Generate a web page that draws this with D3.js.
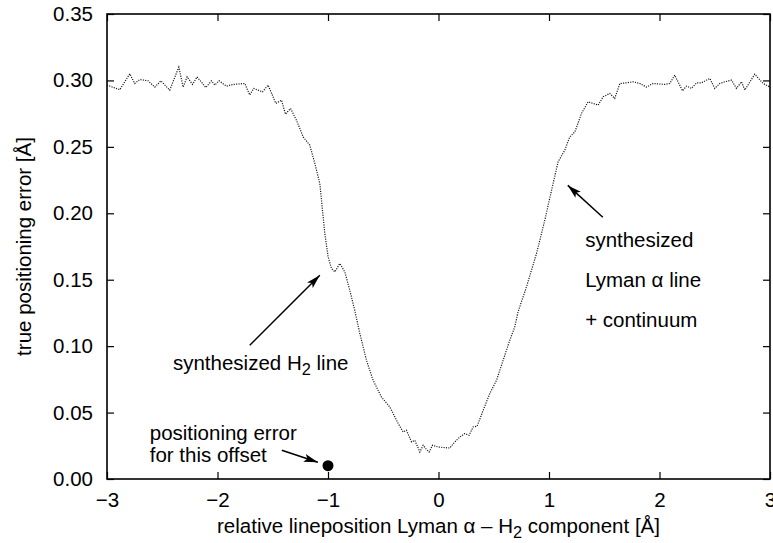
<!DOCTYPE html>
<html><head><meta charset="utf-8">
<script src="https://cdn.jsdelivr.net/npm/d3@7"></script>
<style>
html,body{margin:0;padding:0;background:#fff;}
svg text{font-family:"Liberation Sans",Arial,Helvetica,sans-serif;fill:#000;}
</style></head>
<body><svg id="chart" width="773" height="543"></svg>
<script>
// ---- data ----
const offsets = [-3.00,-2.884,-2.794,-2.749,-2.703,-2.628,-2.567,-2.513,-2.432,-2.350,-2.311,-2.275,-2.226,-2.185,-2.106,-2.054,-2.024,-1.986,-1.919,-1.859,-1.753,-1.708,-1.672,-1.593,-1.542,-1.472,-1.421,-1.385,-1.339,-1.285,-1.225,-1.165,-1.119,-1.074,-1.050,-1.029,-0.999,-0.968,-0.938,-0.893,-0.848,-0.803,-0.758,-0.712,-0.652,-0.592,-0.516,-0.441,-0.366,-0.320,-0.290,-0.244,-0.214,-0.169,-0.139,-0.115,-0.085,-0.054,-0.004,0.102,0.148,0.193,0.238,0.277,0.313,0.349,0.404,0.464,0.525,0.585,0.645,0.690,0.720,0.796,0.887,0.962,1.037,1.082,1.143,1.188,1.234,1.294,1.354,1.399,1.444,1.490,1.550,1.595,1.641,1.701,1.761,1.822,1.882,1.942,2.048,2.093,2.138,2.208,2.244,2.290,2.335,2.380,2.425,2.455,2.500,2.546,2.591,2.652,2.697,2.742,2.772,2.862,2.938,3.00];
const errors = [0.2965,0.293,0.305,0.2977,0.3007,0.2997,0.295,0.2997,0.2927,0.310,0.295,0.3027,0.297,0.3027,0.2947,0.2997,0.2965,0.2997,0.2957,0.297,0.2977,0.289,0.294,0.2914,0.2965,0.2827,0.2852,0.2746,0.2789,0.270,0.2575,0.2513,0.2375,0.2224,0.2023,0.1848,0.1672,0.1584,0.1559,0.1622,0.1559,0.1421,0.127,0.1095,0.0894,0.0743,0.0617,0.0542,0.042,0.0354,0.0367,0.0279,0.0291,0.0203,0.0254,0.0229,0.0203,0.0254,0.0241,0.0233,0.0279,0.0316,0.0342,0.0329,0.0392,0.0397,0.0517,0.0643,0.0743,0.0894,0.1044,0.1145,0.1258,0.1446,0.1697,0.1948,0.2224,0.2387,0.2475,0.2575,0.2613,0.2751,0.2839,0.2827,0.2814,0.2877,0.2902,0.2864,0.2977,0.2982,0.299,0.2977,0.295,0.2977,0.297,0.2977,0.304,0.2922,0.2957,0.294,0.2982,0.2982,0.3002,0.3015,0.294,0.2977,0.299,0.3002,0.294,0.299,0.2927,0.3047,0.2977,0.295];
const markerOffset = [-1];
const markerError = [0.01];
const xTicks = [-3,-2,-1,0,1,2,3];
const yTicks = [0,0.05,0.10,0.15,0.20,0.25,0.30,0.35];

// ---- layout ----
const svg = d3.select("#chart");
const L = 107, R = 770, T = 14, B = 479;
const x = d3.scaleLinear().domain([-3,3]).range([L,R]);
const y = d3.scaleLinear().domain([0,0.35]).range([B,T]);
const fs = 20.5;

svg.append("defs").append("marker")
  .attr("id","ah").attr("viewBox","0 0 14 10").attr("refX",14).attr("refY",5)
  .attr("markerWidth",14).attr("markerHeight",10).attr("markerUnits","userSpaceOnUse")
  .attr("orient","auto")
  .append("path").attr("d","M0,1 L14,5 L0,9 L3,5 Z").attr("fill","#000");

const fmtX = d => d < 0 ? "\u2212" + Math.abs(d) : String(d);
const gx = svg.append("g").attr("transform",`translate(0,${B})`)
  .call(d3.axisBottom(x).tickValues(xTicks).tickSize(-7).tickPadding(13).tickFormat(fmtX));
const gxt = svg.append("g").attr("transform",`translate(0,${T})`)
  .call(d3.axisTop(x).tickValues(xTicks).tickSize(-7).tickFormat(""));
const gy = svg.append("g").attr("transform",`translate(${L},0)`)
  .call(d3.axisLeft(y).tickValues(yTicks).tickSize(-7).tickPadding(14).tickFormat(d3.format(".2f")));
const gyr = svg.append("g").attr("transform",`translate(${R},0)`)
  .call(d3.axisRight(y).tickValues(yTicks).tickSize(-7).tickFormat(""));
[gx,gxt,gy,gyr].forEach(g=>{
  g.select(".domain").remove();
  g.selectAll(".tick line").attr("stroke","#000").attr("stroke-width",1.2);
  g.selectAll("text").attr("font-size",fs).attr("fill","#000");
});
gx.selectAll("text").attr("dy","0.72em");
svg.append("rect").attr("x",L).attr("y",T).attr("width",R-L).attr("height",B-T)
  .attr("fill","none").attr("stroke","#000").attr("stroke-width",1.6);

// curve
const line = d3.line().x((d,i)=>x(offsets[i])).y((d,i)=>y(errors[i]));
svg.append("path").datum(errors).attr("d",line)
  .attr("fill","none").attr("stroke","#111").attr("stroke-width",1.2)
  .attr("stroke-dasharray","1.1,1.3");

// marker point
svg.selectAll("circle.pt").data(markerOffset).enter().append("circle")
  .attr("cx",(d)=>x(d)).attr("cy",(d,i)=>y(markerError[i])).attr("r",5.5).attr("fill","#000");

// annotations
function arrow(x1,y1,x2,y2){
  svg.append("line").attr("x1",x(x1)).attr("y1",y(y1)).attr("x2",x(x2)).attr("y2",y(y2))
    .attr("stroke","#000").attr("stroke-width",1.5).attr("marker-end","url(#ah)");
}
arrow(-1.708,0.1007,-1.074,0.1533);
arrow(1.487,0.197,1.170,0.221);
arrow(-1.418,0.0216,-1.092,0.0126);

function label(px,py,parts){
  const t = svg.append("text").attr("x",x(px)).attr("y",y(py)).attr("font-size",fs);
  let shifted = false;
  parts.forEach(p=>{
    const s = t.append("tspan").text(p.t);
    if (p.sub) { s.attr("dy",5).attr("font-size",fs*0.8); shifted = true; }
    else if (shifted) { s.attr("dy",-5); shifted = false; }
  });
  return t;
}
label(-2.403,0.0819,[{t:"synthesized H"},{t:"2",sub:true},{t:" line"}]);
label(1.327,0.1745,[{t:"synthesized"}]);
label(1.327,0.1444,[{t:"Lyman \u03b1 line"}]);
label(1.327,0.1142,[{t:"+ continuum"}]);
label(-2.613,0.0292,[{t:"positioning error"}]);
label(-2.613,0.0126,[{t:"for this offset"}]);

// axis titles
const xt = svg.append("text").attr("x",(L+R)/2).attr("y",533).attr("text-anchor","middle").attr("font-size",fs);
xt.append("tspan").text("relative lineposition Lyman \u03b1 \u2013 H");
xt.append("tspan").attr("dy",5).attr("font-size",fs*0.8).text("2");
xt.append("tspan").attr("dy",-5).text(" component [\u00c5]");
svg.append("text").attr("transform",`translate(31,${(T+B)/2}) rotate(-90)`)
  .attr("text-anchor","middle").attr("font-size",fs).text("true positioning error [\u00c5]");
</script></body></html>
